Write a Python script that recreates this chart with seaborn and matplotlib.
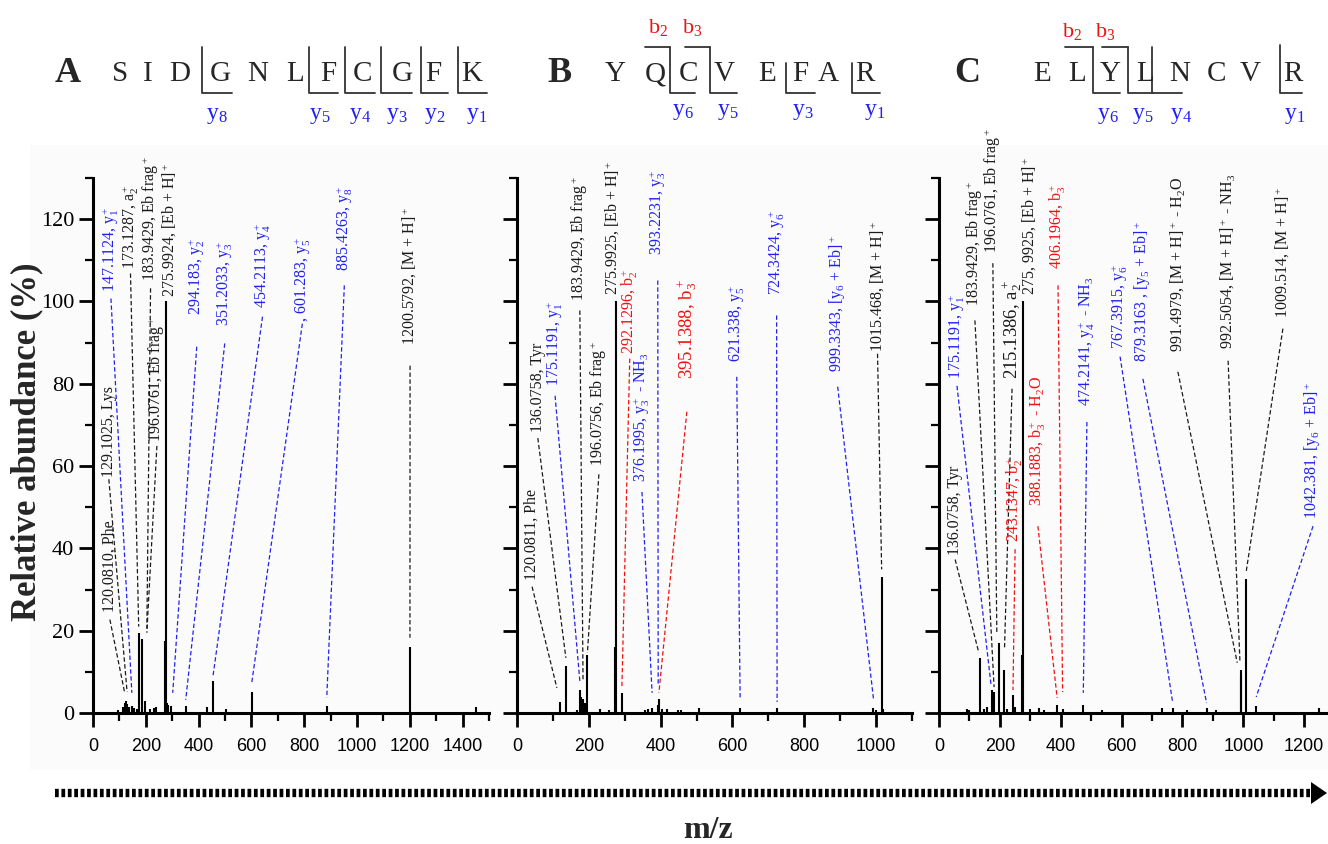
"""
Tandem MS spectra of three labelled peptides (panels A-C) with fragment annotations
"""

import matplotlib

matplotlib.use("Agg")
import matplotlib.pyplot as plt  # type: ignore
import seaborn as sns  # type: ignore
from matplotlib.lines import Line2D  # type: ignore
from matplotlib.patches import Polygon, Rectangle  # type: ignore
from matplotlib.ticker import MultipleLocator  # type: ignore

W, H = 1328, 844

# ---------------- panel A : SIDGNLFCGFK ----------------
a_mz = [96, 113, 120.0810, 125, 129.1025, 136, 147.1124, 155, 166, 173.1287,
        183.9429, 196.0761, 215, 230, 240, 273.5, 275.9924, 281, 285, 294.183,
        351.2033, 430, 454.2113, 505, 601.283, 885.4263, 1200.5792, 1450]
a_int = [0.8, 1.5, 2.5, 3.0, 2.2, 1.5, 1.8, 1.2, 1.0, 19.5,
         18.0, 2.8, 1.0, 1.2, 1.5, 17.5, 100, 2.5, 2.0, 1.8,
         1.8, 1.5, 7.8, 1.0, 5.2, 1.8, 16.0, 1.5]
a_lab_txt = ["120.0810, Phe", "129.1025, Lys", "147.1124, y$_1^+$", "173.1287, a$_2^+$",
             "183.9429, Eb frag$^+$", "196.0761, Eb frag$^+$", "275.9924, [Eb + H]$^+$",
             "294.183, y$_2^+$", "351.2033, y$_3^+$", "454.2113, y$_4^+$", ", 601.283, y$_5^+$",
             "885.4263, y$_8^+$", "1200.5792, [M + H]$^+$"]
a_lab_col = ["k", "k", "b", "k", "k", "k", "k", "b", "b", "b", "b", "b", "k"]
# label layout: text x (m/z), text bottom (%), leader top (%), leader end (%), font size
a_lab_pos = [(64, 24.6, 22.7, 4.9, 11.5), (60, 57.3, 56.8, 5.1, 11.5),
             (68, 102.4, 100.7, 4.9, 11.5), (142, 108, 106.8, 21, 11.5),
             (218, 104.9, 103.2, 20.5, 11.5), (242, 65.9, 64.9, 19.5, 11.5),
             (291, 101.2, None, None, 11.5), (393, 96.6, 89, 4.9, 11.5),
             (499, 94.1, 89.8, 3.2, 11.5), (642, 98.3, 96.3, 8.8, 11.5),
             (793, 95.1, 94.6, 7.3, 11.5), (952, 107.3, 103.9, 3.7, 11.5),
             (1201, 89.3, 84.4, 18.3, 11.5)]

# ---------------- panel B : YQCVEFAR ----------------
b_mz = [120.0811, 136.0758, 166, 175.1191, 179, 183.9429, 188, 196.0756, 230, 256,
        273, 275.9925, 292.1296, 356, 366, 376.1995, 393.2231, 395.1388, 405, 417,
        447, 458, 506, 621.338, 724.3424, 990, 999.3343, 1015.468, 1018]
b_int = [2.7, 11.3, 0.8, 5.6, 4.0, 3.5, 2.5, 14.0, 1.0, 0.8,
         16.0, 100, 4.8, 0.8, 1.0, 1.2, 2.0, 3.4, 1.0, 1.0,
         0.8, 0.8, 1.3, 1.2, 1.2, 1.3, 0.8, 33.0, 1.0]
b_lab_txt = ["120.0811, Phe", "136.0758, Tyr", "175.1191, y$_1^+$", "183.9429, Eb frag$^+$",
             "196.0756, Eb frag$^+$", "275.9925, [Eb + H]$^+$", "292.1296, b$_2^+$",
             "376.1995, y$_3^+$ - NH$_3$", "393.2231, y$_3^+$", "395.1388, b$_3^+$",
             "621.338, y$_5^+$", "724.3424, y$_6^+$", "999.3343, [y$_6$ + Eb]$^+$",
             "1015.468, [M + H]$^+$"]
b_lab_col = ["k", "k", "b", "k", "k", "k", "r", "b", "b", "r", "b", "b", "b", "k"]
b_lab_pos = [(42, 32.4, 30.7, 6.1, 11.5), (58, 68.3, 66.8, 13.4, 11.5),
             (106, 79.5, 77.1, 7.6, 11.5), (175, 100.2, 97.8, 7.6, 11.5),
             (228, 60, 58, 14.6, 11.5), (267, 101.5, None, None, 11.5),
             (314, 87.3, 86.1, 6.3, 11.5), (348, 56.1, 53.7, 4.9, 11.5),
             (392, 111.2, 105.1, 6.8, 11.5), (473, 81.2, 73.2, 4.9, 13.5),
             (612, 85.4, 81.7, 3.7, 11.5), (723, 101.5, 96.6, 2.7, 11.5),
             (893, 82.9, 79.3, 3.2, 11.5), (1004, 87.8, 87.3, 34.9, 11.5)]

# ---------------- panel C : ELYLNCVR ----------------
c_mz = [91, 99, 136.0758, 148, 158, 175.1191, 181, 196.0761, 215.1386, 225,
        243.1347, 250, 273, 275.9925, 299, 329, 345, 388.1883, 406.1964, 474.2141,
        535, 733, 767.3915, 814, 879.3163, 910, 991.4979, 992.5054, 1009.514, 1042.381,
        1249]
c_int = [1.0, 0.8, 13.4, 1.0, 1.5, 5.6, 5.0, 17.0, 10.5, 1.0,
         4.4, 1.5, 14.0, 100, 1.0, 1.3, 0.7, 2.0, 1.0, 2.0,
         0.8, 1.2, 1.3, 0.8, 1.3, 0.8, 10.5, 9.0, 32.5, 1.7,
         1.2]
c_lab_txt = ["136.0758, Tyr", "175.1191, y$_1^+$", "183.9429, Eb frag$^+$",
             "196.0761, Eb frag$^+$", "215.1386, a$_2^+$", "275, 9925, [Eb + H]$^+$",
             "243.1347, b$_2^+$", "388.1883, b$_3^+$ - H$_2$O", "406.1964, b$_3^+$",
             "474.2141, y$_4^+$ - NH$_3$", "767.3915, y$_6^+$", "879.3163 , [y$_5$ + Eb]$^+$",
             "991.4979, [M + H]$^+$ - H$_2$O", "992.5054, [M + H]$^+$ - NH$_3$",
             "1009.514, [M + H]$^+$", "1042.381, [y$_6$ + Eb]$^+$"]
c_lab_col = ["k", "b", "k", "k", "k", "k", "r", "r", "r", "b", "b", "b", "k", "k", "k", "b"]
c_lab_pos = [(53, 38.5, 37.3, 14.6, 11.5), (59, 81.2, 79.5, 6.8, 11.5),
             (118, 99, 95.4, 6.3, 11.5), (177, 111.7, 109.3, 19.5, 11.5),
             (240, 81.2, 78.8, 15.4, 13.5), (299, 101.5, None, None, 11.5),
             (250, 41.5, 39.8, 5.6, 11.5), (325, 50.2, 45.4, 3.7, 11.5),
             (391, 108, 103.9, 5.1, 11.5), (486, 74.6, 70.7, 4.9, 11.5),
             (595, 88.5, 86.6, 2.7, 11.5), (670, 85.4, 81.2, 2.4, 11.5),
             (785, 87.8, 82.9, 12.2, 11.5), (950, 88.5, 85.6, 12.2, 11.5),
             (1130, 95.9, 93.4, 34.4, 11.5), (1229, 47.1, 45.4, 3.9, 11.5)]

# leaders point at (or next to) the labelled peak m/z
a_pk = [120.0810, 129.1025, 147.1124, 173.1287, 204, 204, 275.9924, 302,
        351.2033, 454.2113, 601.283, 885.4263, 1200.5792]
b_pk = [111, 136.0758, 175.1191, 183.9429, 196.0756, 275.9925, 292.1296,
        376.1995, 393.2231, 395.1388, 621.338, 724.3424, 993, 1015.468]
c_pk = [131, 171, 181, 190, 215.1386, 275.9925, 243.1347, 388.1883, 406.1964,
        474.2141, 767.3915, 879.3163, 980, 989, 1009.514, 1042.381]

COLORS = {"k": "#1a1a1a", "b": "#2020f0", "r": "#f01010"}

# sequence header (pixel layout): letters, letter x, bracket segments, ion labels
seq_a = ["S", "I", "D", "G", "N", "L", "F", "C", "G", "F", "K"]
seq_a_x = [120, 148, 180, 220, 258, 295, 328, 362, 402, 433, 472]
seq_b = ["Y", "Q", "C", "V", "E", "F", "A", "R"]
seq_b_x = [615, 655, 688, 724, 767, 800, 828, 865]
seq_c = ["E", "L", "Y", "L", "N", "C", "V", "R"]
seq_c_x = [1042, 1077, 1110, 1145, 1180, 1217, 1250, 1293]

# y-ion brackets: (vertical x, top y, right end x)
y_brackets = [(202, 47, 232), (309, 47, 338), (345, 47, 375), (381, 47, 412), (421, 47, 448),
              (458, 47, 487), (670, 47, 695), (710, 47, 737), (786, 63, 815), (852, 63, 880),
              (1093, 47, 1120), (1128, 47, 1153), (1152, 47, 1182), (1280, 45, 1302)]
# b-ion brackets: (left x, right x) top line ending at the vertical
b_brackets = [(645, 670), (685, 710), (1065, 1093), (1102, 1128)]
y_ions = ["y$_8$", "y$_5$", "y$_4$", "y$_3$", "y$_2$", "y$_1$",
          "y$_6$", "y$_5$", "y$_3$", "y$_1$", "y$_6$", "y$_5$", "y$_4$", "y$_1$"]
y_ions_xy = [(217, 115), (320, 115), (360, 115), (397, 115), (435, 115), (477, 115),
             (683, 112), (728, 112), (803, 112), (875, 112),
             (1108, 115), (1143, 115), (1181, 115), (1295, 115)]
b_ions = ["b$_2$", "b$_3$", "b$_2$", "b$_3$"]
b_ions_xy = [(658, 28), (692, 28), (1072, 32), (1105, 32)]


def fxy(x, y):
    """pixel position -> figure fraction"""
    return x / W, 1 - y / H


def draw_panel(ax, mz, inten, lab_txt, lab_col, lab_pos, lab_pk, xmax, xtick_max):
    ax.vlines(mz, 0, inten, color="black", lw=1.5, zorder=3)
    for txt, col, (tx, ty, ly, le, fs), pk in zip(lab_txt, lab_col, lab_pos, lab_pk):
        c = COLORS[col]
        if ly is not None:
            ax.plot([tx, pk], [ly, le], ls=(0, (3.5, 2)), lw=0.9, color=c, zorder=2)
        ax.text(tx, ty, txt, rotation=90, ha="center", va="bottom", color=c,
                fontsize=fs, clip_on=False)
    ax.set_xlim(0, xmax)
    ax.set_ylim(0, 130)
    ax.set_xticks(range(0, xtick_max + 1, 200))
    ax.xaxis.set_minor_locator(MultipleLocator(100))
    ax.set_yticks(range(0, 121, 20))
    ax.yaxis.set_minor_locator(MultipleLocator(10))
    ax.set_facecolor("none")
    sns.despine(ax=ax)
    for sp in ("left", "bottom"):
        ax.spines[sp].set_linewidth(2.2)
    ax.tick_params(which="major", direction="out", length=10, width=2)
    ax.tick_params(which="minor", direction="out", length=6, width=1.6)
    ax.tick_params(axis="x", labelsize=13, pad=8)
    ax.tick_params(axis="y", labelsize=16)
    for lab in ax.get_xticklabels():
        lab.set_fontfamily("Liberation Sans")


def main() -> None:
    sns.set_theme(style="ticks")
    plt.rcParams["font.family"] = ["Liberation Serif", "DejaVu Serif"]
    plt.rcParams["mathtext.fontset"] = "custom"
    plt.rcParams["mathtext.rm"] = "Liberation Serif"
    plt.rcParams["mathtext.it"] = "Liberation Serif:italic"
    plt.rcParams["mathtext.bf"] = "Liberation Serif:bold"
    plt.rcParams["axes.edgecolor"] = "black"
    plt.rcParams["xtick.color"] = "black"
    plt.rcParams["ytick.color"] = "black"

    fig = plt.figure(figsize=(W / 100, H / 100), dpi=100)
    fig.patch.set_facecolor("white")
    fig.add_artist(Rectangle(fxy(30, 770), 1 - 30 / W, (770 - 145) / H,
                             transform=fig.transFigure, fc="#fbfbfb", ec="none", zorder=-10))

    bottom, height = 1 - 713 / H, (713 - 178) / H
    ax_a = fig.add_axes([93 / W, bottom, 396 / W, height])
    ax_b = fig.add_axes([517 / W, bottom, 395 / W, height])
    ax_c = fig.add_axes([939 / W, bottom, 386.5 / W, height])

    draw_panel(ax_a, a_mz, a_int, a_lab_txt, a_lab_col, a_lab_pos, a_pk, 1500, 1400)
    draw_panel(ax_b, b_mz, b_int, b_lab_txt, b_lab_col, b_lab_pos, b_pk, 1100, 1000)
    draw_panel(ax_c, c_mz, c_int, c_lab_txt, c_lab_col, c_lab_pos, c_pk, 1270, 1200)
    ax_b.set_yticklabels([])
    ax_c.set_yticklabels([])

    fig.text(*fxy(27, 442), "Relative abundance (%)", rotation=90, ha="center", va="center",
             fontsize=25, fontweight="bold")
    fig.text(*fxy(708, 830), "m/z", ha="center", va="center", fontsize=23, fontweight="bold")

    # dotted arrow along the m/z direction
    fig.add_artist(Line2D([55 / W, 1312 / W], [1 - 793 / H] * 2, transform=fig.transFigure,
                          lw=6, ls=(0, (0.45, 0.32)), color="black", dash_capstyle="butt"))
    fig.add_artist(Polygon([fxy(1311, 782), fxy(1311, 804), fxy(1327, 793)], closed=True,
                           transform=fig.transFigure, fc="black", ec="none"))

    # sequences with fragment brackets
    for name, nx in (("A", 68), ("B", 560), ("C", 967)):
        fig.text(*fxy(nx, 74), name, ha="center", va="center", fontsize=26, fontweight="bold")
    for seq, xs in ((seq_a, seq_a_x), (seq_b, seq_b_x), (seq_c, seq_c_x)):
        for ch, x in zip(seq, xs):
            fig.text(*fxy(x, 74), ch, ha="center", va="center", fontsize=21)
    lc = "#333333"
    for vx, top, rx in y_brackets:
        fig.add_artist(Line2D([vx / W, vx / W, rx / W], [1 - top / H, 1 - 93 / H, 1 - 93 / H],
                              transform=fig.transFigure, lw=1.3, color=lc))
    for lx, rx in b_brackets:
        fig.add_artist(Line2D([lx / W, rx / W], [1 - 47 / H] * 2, transform=fig.transFigure,
                              lw=1.3, color=lc))
    for t, (x, y) in zip(y_ions, y_ions_xy):
        fig.text(*fxy(x, y), t, ha="center", va="center", fontsize=17, color=COLORS["b"])
    for t, (x, y) in zip(b_ions, b_ions_xy):
        fig.text(*fxy(x, y), t, ha="center", va="center", fontsize=16, color=COLORS["r"])

    plt.savefig("out.png", dpi=100)


if __name__ == "__main__":
    main()
